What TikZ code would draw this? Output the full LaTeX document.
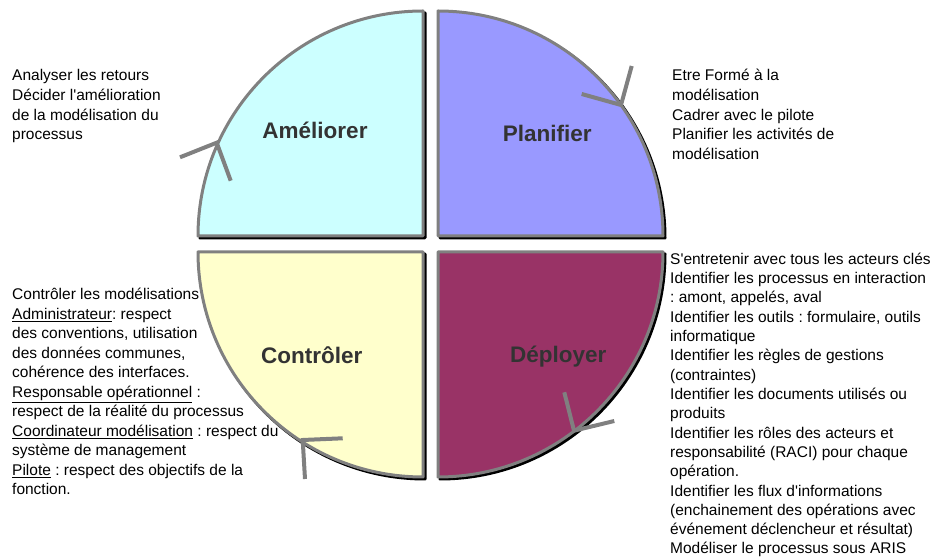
\documentclass[tikz,border=0pt]{standalone}
\usepackage{fontspec}
\setmainfont{Liberation Sans}[Ligatures=TeXOff]
\usepackage{tikz}
\usetikzlibrary{calc}
\frenchspacing
\definecolor{ameliorer}{HTML}{CCFFFF}
\definecolor{planifier}{HTML}{9999FF}
\definecolor{controler}{HTML}{FFFFCC}
\definecolor{deployer}{HTML}{993366}
\definecolor{edgegray}{HTML}{808080}
\definecolor{phasegray}{HTML}{333333}
\tikzset{
    quarter/.append style={draw=edgegray,line width=3pt,line join=round},
    quarter_shadow/.append style={draw=black,fill=black,line width=3pt,line join=round},
    phase_text/.append style={font=\fontsize{22.5}{27}\selectfont\bfseries,text=phasegray,inner sep=0pt,anchor=base},
    note_text/.append style={align=left,inner sep=0pt,anchor=base west,font=\fontsize{15.5}{19.6}\selectfont},
    loop_mark/.append style={draw=edgegray,line width=4pt,line join=miter},
}
% corner, start angle, end angle, fill colour
\newcommand{\PhaseQuarter}[4]{
    \path[quarter_shadow,shift={(2,-2)}] #1 -- ++(#2:225) arc[start angle=#2,end angle=#3,radius=225] -- cycle;
    \path[quarter,fill=#4] #1 -- ++(#2:225) arc[start angle=#2,end angle=#3,radius=225] -- cycle;
}
\begin{document}
\begin{tikzpicture}[x=1pt,y=1pt]
   	\useasboundingbox (0,0) rectangle (930,559);

   	% texts are anchored at the baseline of their last line
   	\node[note_text] (txt_ameliorer) at (12,419.2) {Analyser les retours\\Décider l'amélioration\\de la modélisation du\\processus};
   	\node[note_text] (txt_planifier) at (672,399.6) {Etre Formé à la\\modélisation\\Cadrer avec le pilote\\Planifier les activités de\\modélisation};
   	\node[note_text,font=\fontsize{15.5}{19.5}\selectfont] (txt_controler) at (12,64) {Contrôler les modélisations :\\\underline{Administrateur}: respect\\des conventions, utilisation\\des données communes,\\cohérence des interfaces.\\\underline{Responsable opérationnel} :\\respect de la réalité du processus\\\underline{Coordinateur modélisation} : respect du\\système de management\\\underline{Pilote} : respect des objectifs de la\\fonction.};
   	\node[note_text,font=\fontsize{15.5}{19.33}\selectfont] (txt_deployer) at (670,5) {S'entretenir avec tous les acteurs clés\\Identifier les processus en interaction\\: amont, appelés, aval\\Identifier les outils : formulaire, outils\\informatique\\Identifier les règles de gestions\\(contraintes)\\Identifier les documents utilisés ou\\produits\\Identifier les rôles des acteurs et\\responsabilité (RACI) pour chaque\\opération.\\Identifier les flux d'informations\\(enchainement des opérations avec\\événement déclencheur et résultat)\\Modéliser le processus sous ARIS};

   	\PhaseQuarter{(423,323)}{180}{90}{ameliorer}
   	\PhaseQuarter{(438,323)}{90}{0}{planifier}
   	\PhaseQuarter{(423,307)}{270}{180}{controler}
   	\PhaseQuarter{(438,307)}{0}{-90}{deployer}

   	\node[phase_text] (ameliorer) at (315,420.7) {Améliorer};
   	\node[phase_text] (planifier) at (547.3,417.3) {Planifier};
   	\node[phase_text] (controler) at (311.7,195.7) {Contrôler};
   	\node[phase_text] (deployer) at (558.3,196.3) {Déployer};

   	% cycle marks on the arcs
   	\draw[loop_mark] (180,401.7) -- (216.7,416.3) -- (230.7,378.3);
   	\draw[loop_mark] (581.7,465) -- (621,454) -- (631.7,493);
   	\draw[loop_mark] (564.3,166.7) -- (574,128.3) -- (614.3,138);
   	\draw[loop_mark] (342.7,120.7) -- (302.7,119) -- (305,80);
\end{tikzpicture}
\end{document}
